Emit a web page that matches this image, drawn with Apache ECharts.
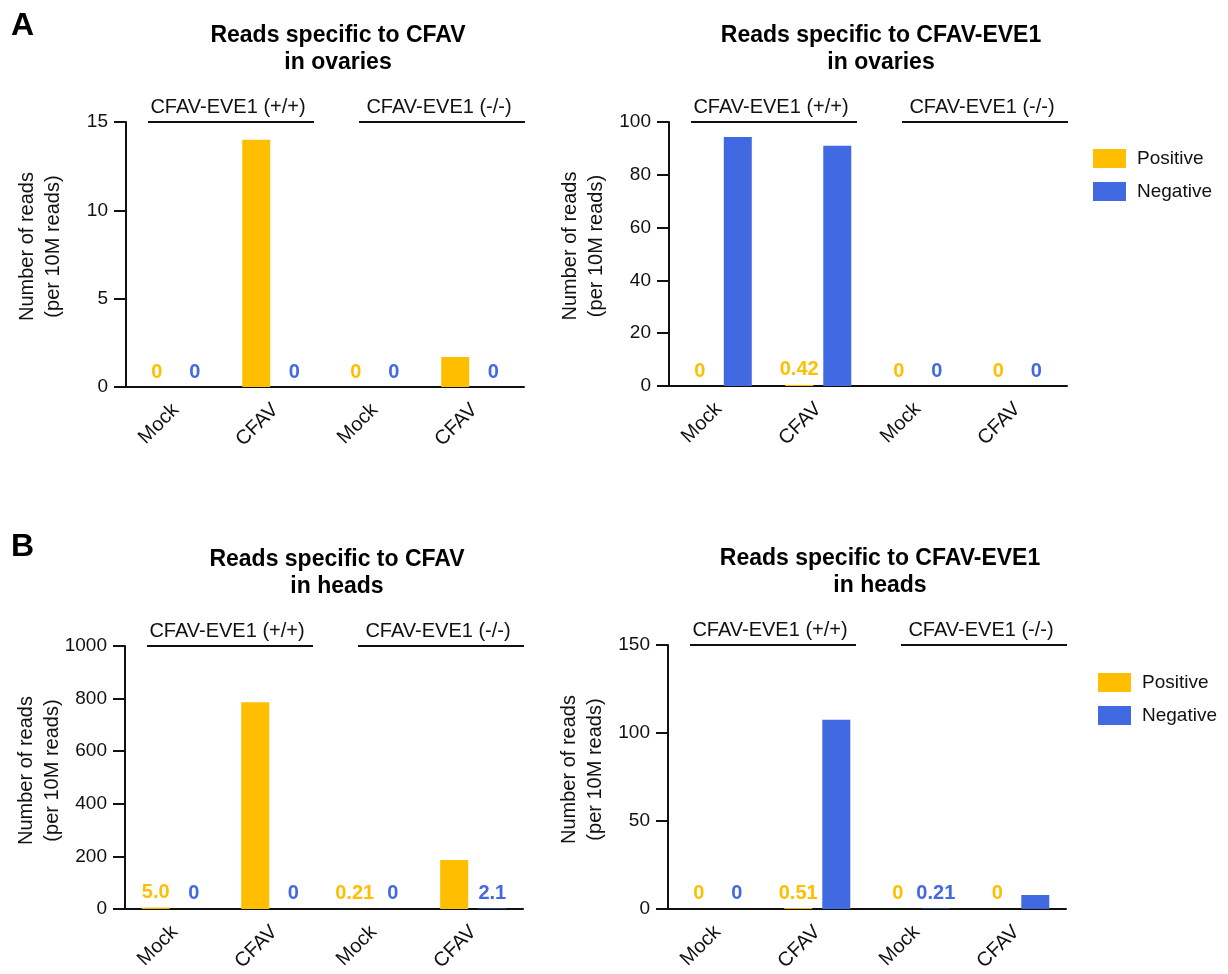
<!DOCTYPE html>
<html>
<head>
<meta charset="utf-8">
<script src="https://cdn.jsdelivr.net/npm/echarts@6/dist/echarts.min.js"></script>
<style>
html,body{margin:0;padding:0;background:#fff;}
#chart{width:1228px;height:974px;}
</style>
</head>
<body>
<div id="chart"></div>
<script>
// ---- data ----
const categories = ['Mock', 'CFAV', 'Mock', 'CFAV'];
const groupLabels = ['CFAV-EVE1 (+/+)', 'CFAV-EVE1 (-/-)'];
const seriesNames = ['Positive', 'Negative'];

const ovariesCfavPositive = [0, 14.0, 0, 1.7];
const ovariesCfavNegative = [0, 0, 0, 0];
const ovariesEvePositive = [0, 0.42, 0, 0];
const ovariesEveNegative = [94.3, 91.0, 0, 0];
const headsCfavPositive = [5.0, 786, 0.21, 186];
const headsCfavNegative = [0, 0, 0, 2.1];
const headsEvePositive = [0, 0.51, 0, 0];
const headsEveNegative = [0, 107.5, 0.21, 7.9];

const panelTitles = [
  'Reads specific to CFAV\nin ovaries',
  'Reads specific to CFAV-EVE1\nin ovaries',
  'Reads specific to CFAV\nin heads',
  'Reads specific to CFAV-EVE1\nin heads'
];
const yMax = [15, 100, 1000, 150];
const yInterval = [5, 20, 200, 50];
const yAxisTitle = 'Number of reads\n(per 10M reads)';

// ---- layout ----
const FONT = "'Liberation Sans', Arial, Helvetica, sans-serif";
const YELLOW = '#FFBF00';
const BLUE = '#4169E1';
const INK = '#111111';
const grids = [
  {left: 126, top: 122, width: 398, height: 265},
  {left: 669, top: 122, width: 398, height: 264},
  {left: 125, top: 646, width: 398, height: 265},
  {left: 668, top: 645, width: 398, height: 265}
];
const panelData = [
  [ovariesCfavPositive, ovariesCfavNegative],
  [ovariesEvePositive, ovariesEveNegative],
  [headsCfavPositive, headsCfavNegative],
  [headsEvePositive, headsEveNegative]
];

const xAxes = [], yAxes = [], series = [], graphics = [];
grids.forEach(function (g, i) {
  xAxes.push({
    type: 'category', gridIndex: i, data: categories,
    axisLine: {lineStyle: {color: INK, width: 2}},
    axisTick: {alignWithLabel: true, length: 9, lineStyle: {color: INK, width: 2}},
    axisLabel: {rotate: 45, margin: 20, fontSize: 20, color: INK, fontFamily: FONT, interval: 0}
  });
  yAxes.push({
    type: 'value', gridIndex: i, min: 0, max: yMax[i], interval: yInterval[i],
    splitLine: {show: false},
    axisLine: {show: true, lineStyle: {color: INK, width: 2}},
    axisTick: {show: true, length: 12, lineStyle: {color: INK, width: 2}},
    axisLabel: {margin: 18, fontSize: 19, color: INK, fontFamily: FONT,
      formatter: function (v) { return String(v); }}
  });
  const colors = [YELLOW, BLUE];
  panelData[i].forEach(function (vals, s) {
    series.push({
      type: 'bar', name: seriesNames[s], xAxisIndex: i, yAxisIndex: i,
      data: vals, barWidth: 28, barGap: '36%',
      itemStyle: {color: colors[s]},
      label: {
        show: true, position: 'top', distance: 5,
        fontSize: 20, fontWeight: 'bold', fontFamily: FONT, color: colors[s],
        formatter: function (p) {
          const v = p.value;
          if (v >= yMax[i] * 0.02) return '';
          return v === 0 ? '0' : v.toPrecision(2);
        }
      }
    });
  });
  // title
  graphics.push({
    type: 'text', x: g.left + 212, y: g.top - 73,
    style: {text: panelTitles[i], font: 'bold 23px ' + FONT, fill: '#000',
      align: 'center', verticalAlign: 'middle', textAlign: 'center', textVerticalAlign: 'middle', lineHeight: 27}
  });
  // group annotations
  [[22, 188], [233, 399]].forEach(function (span, k) {
    graphics.push({
      type: 'line', shape: {x1: g.left + span[0], y1: g.top, x2: g.left + span[1], y2: g.top},
      style: {stroke: INK, lineWidth: 2}
    });
    graphics.push({
      type: 'text', x: g.left + (span[0] + span[1]) / 2 - 3, y: g.top - 15,
      style: {text: groupLabels[k], font: '20px ' + FONT, fill: INK,
        align: 'center', verticalAlign: 'middle', textAlign: 'center', textVerticalAlign: 'middle'}
    });
  });
  // y axis title
  graphics.push({
    type: 'text', x: g.left - 86, y: g.top + g.height / 2 - 8, rotation: Math.PI / 2,
    style: {text: yAxisTitle, font: '20px ' + FONT, fill: INK, lineHeight: 26,
      align: 'center', verticalAlign: 'middle', textAlign: 'center', textVerticalAlign: 'middle'}
  });
});
// panel letters
graphics.push({type: 'text', x: 11, y: 26, style: {text: 'A', font: 'bold 32px ' + FONT, fill: '#000',
  align: 'left', verticalAlign: 'middle', textAlign: 'left', textVerticalAlign: 'middle'}});
graphics.push({type: 'text', x: 11, y: 547, style: {text: 'B', font: 'bold 32px ' + FONT, fill: '#000',
  align: 'left', verticalAlign: 'middle', textAlign: 'left', textVerticalAlign: 'middle'}});

const legendBase = {
  orient: 'vertical', icon: 'rect', itemWidth: 33, itemHeight: 19, itemGap: 14, padding: 0,
  data: seriesNames,
  textStyle: {fontSize: 19, color: INK, fontFamily: FONT, lineHeight: 19, padding: [0, 0, 0, 6]}
};
const legends = [
  Object.assign({}, legendBase, {left: 1093, top: 149}),
  Object.assign({}, legendBase, {left: 1098, top: 673})
];

const chart = echarts.init(document.getElementById('chart'), null, {renderer: 'canvas'});
chart.setOption({
  backgroundColor: '#ffffff',
  animation: false,
  textStyle: {fontFamily: FONT},
  grid: grids.map(function (g) { return Object.assign({containLabel: false}, g); }),
  xAxis: xAxes,
  yAxis: yAxes,
  legend: legends,
  series: series,
  graphic: {elements: graphics}
});
</script>
</body>
</html>
